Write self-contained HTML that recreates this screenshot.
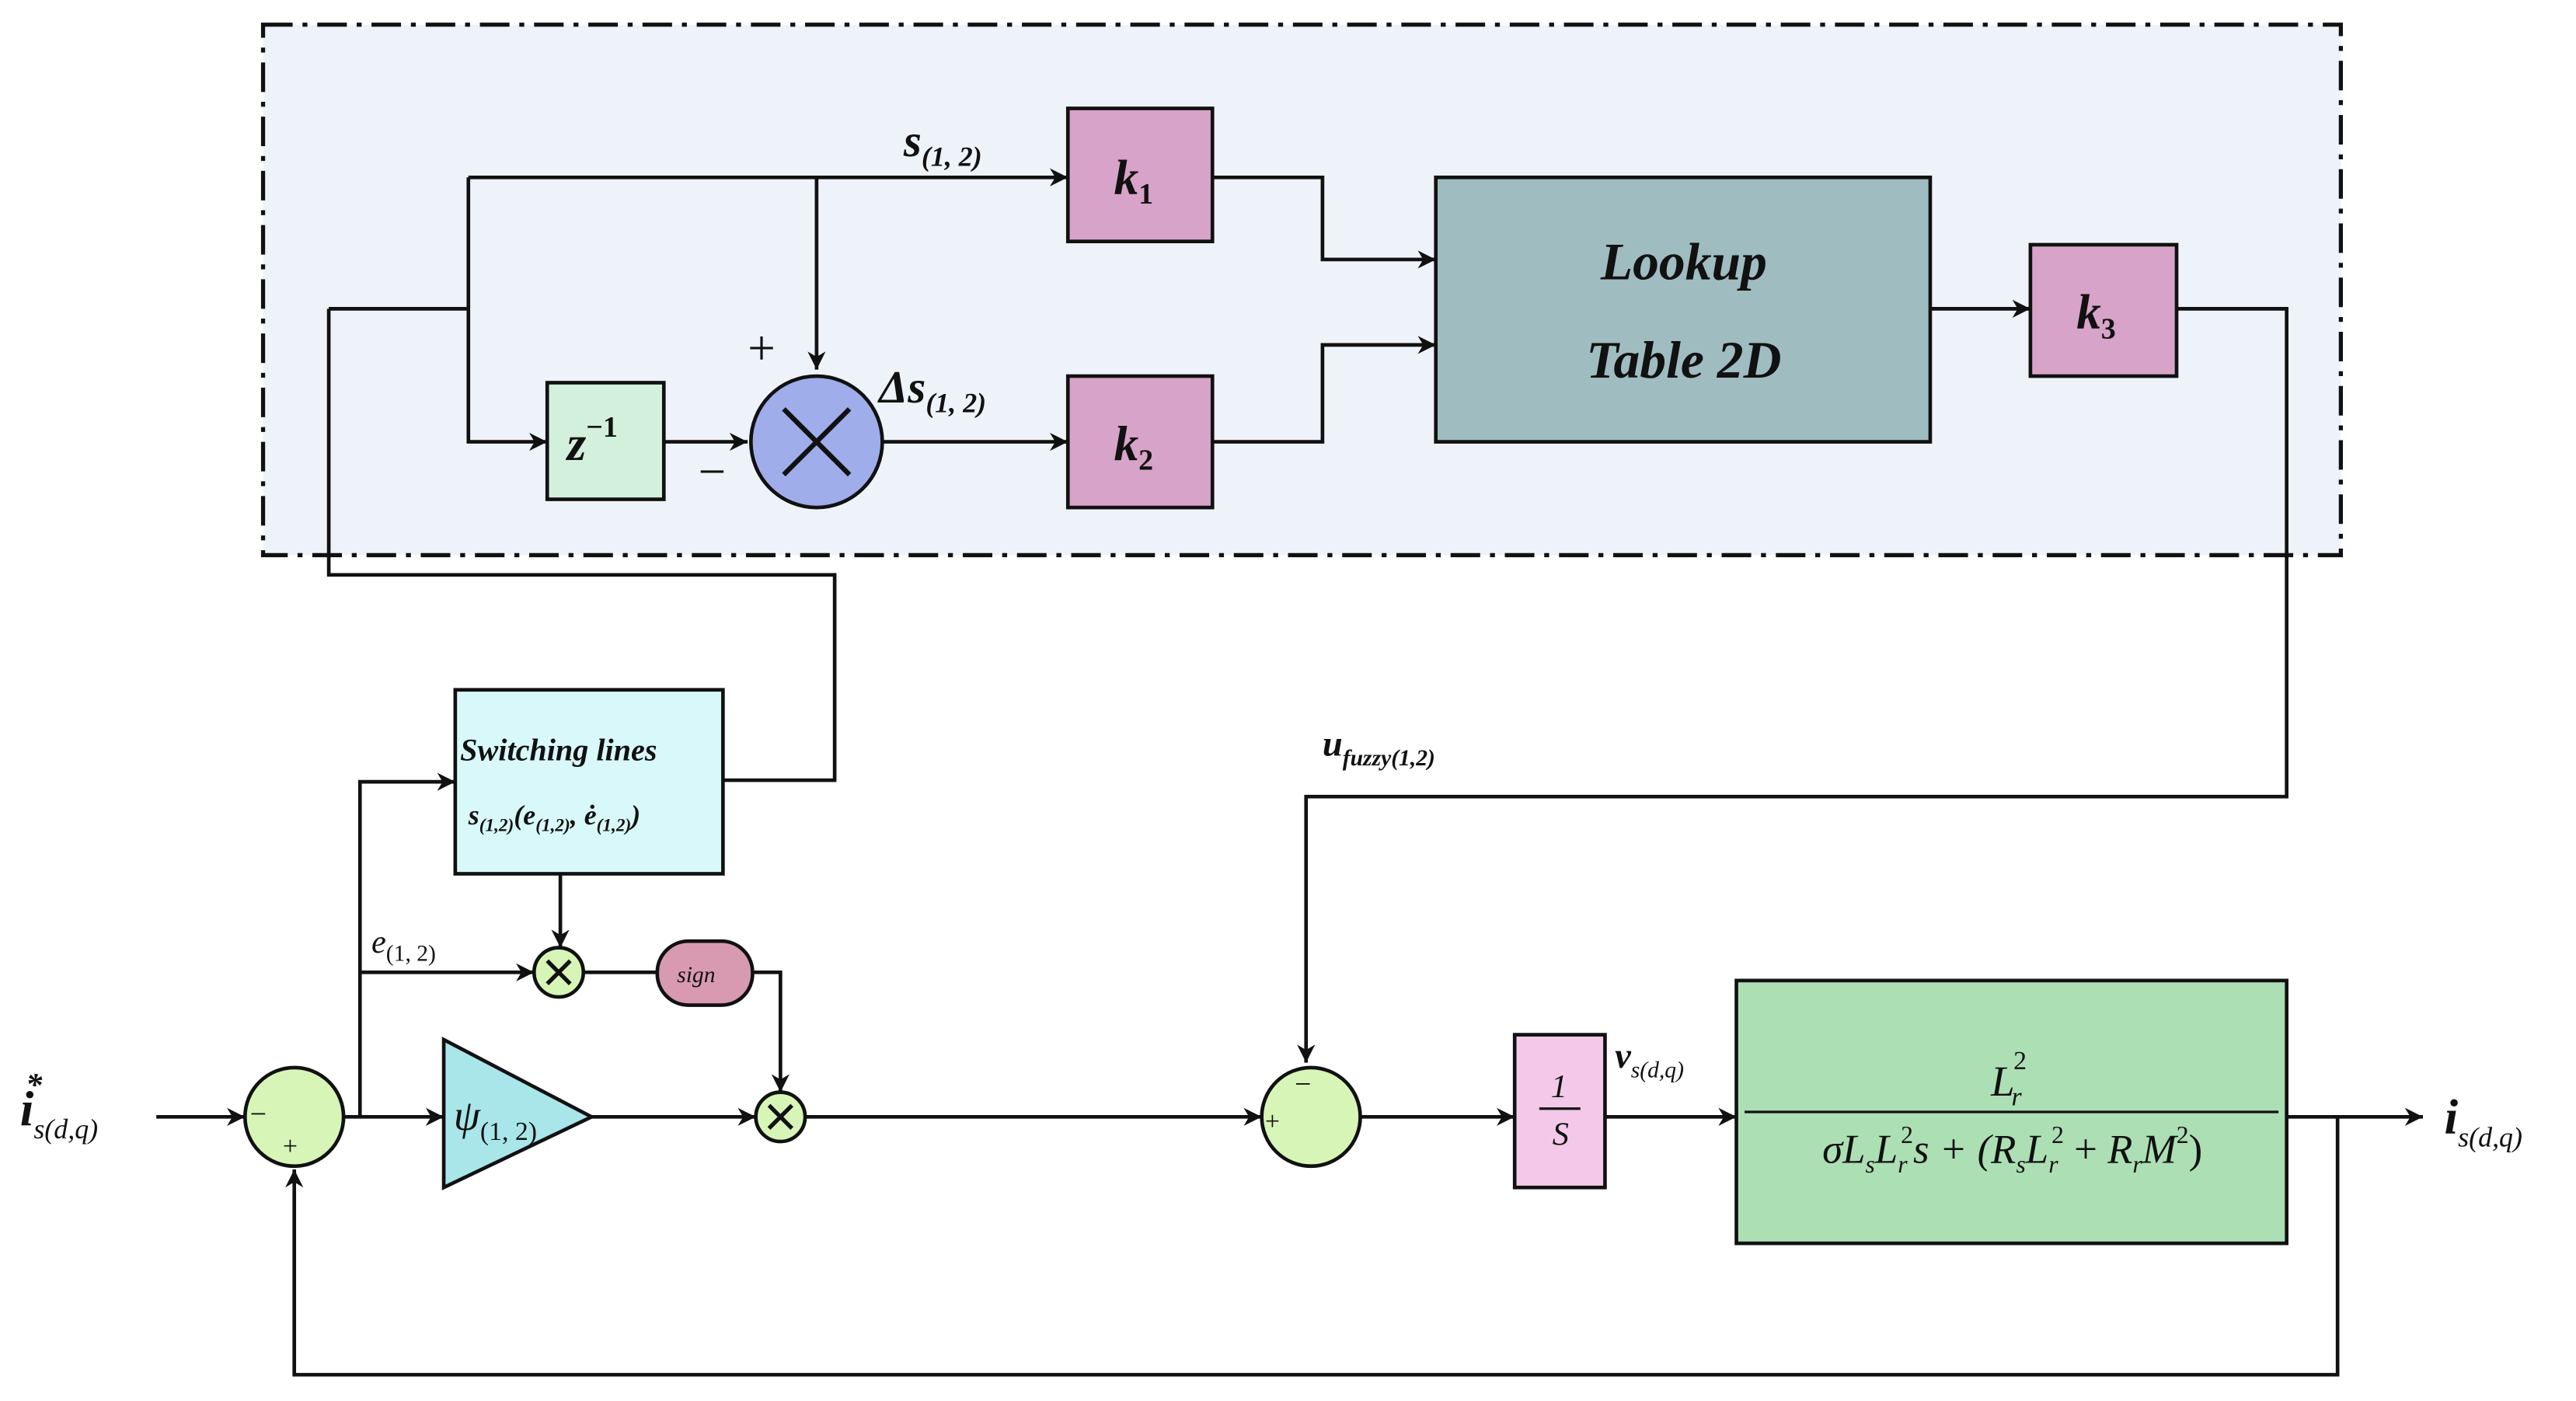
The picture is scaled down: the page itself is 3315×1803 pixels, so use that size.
<!DOCTYPE html>
<html><head><meta charset="utf-8"><style>
html,body{margin:0;padding:0;background:#fff}
svg{display:block}
text{font-family:"Liberation Serif",serif;fill:#111}
</style></head><body>
<svg width="3315" height="1803" viewBox="0 0 1568 853" xmlns="http://www.w3.org/2000/svg">
<defs>
<marker id="a" viewBox="0 0 10 10" refX="10" refY="5" markerWidth="11" markerHeight="11" markerUnits="userSpaceOnUse" orient="auto"><path d="M0,0 L10,5 L0,10 L3,5 z" fill="#111"/></marker>
</defs>
<rect x="160" y="15" width="1265" height="323" fill="#eef3fa" stroke="#111" stroke-width="2.5" stroke-dasharray="18,6,3,6"/>
<g stroke="#111" stroke-width="2.2" fill="none">
<path d="M285,108 H650" marker-end="url(#a)"/>
<path d="M200,188 H285 M285,108 V269 H333" marker-end="url(#a)"/>
<path d="M497,108 V225" marker-end="url(#a)"/>
<path d="M404,269 H455" marker-end="url(#a)"/>
<path d="M537,269 H650" marker-end="url(#a)"/>
<path d="M738,108 H805 V158 H874" marker-end="url(#a)"/>
<path d="M738,269 H805 V210 H874" marker-end="url(#a)"/>
<path d="M1175,188 H1236" marker-end="url(#a)"/>
<path d="M1325,188 H1392 V485 H795 V647" marker-end="url(#a)"/>
<path d="M200,188 V350 H508 V475 H440"/>
<path d="M95,680 H149" marker-end="url(#a)"/>
<path d="M209,680 H270" marker-end="url(#a)"/>
<path d="M219,680 V476 H277" marker-end="url(#a)"/>
<path d="M219,592 H325" marker-end="url(#a)"/>
<path d="M341,532 V577" marker-end="url(#a)"/>
<path d="M355,592 H400"/>
<path d="M458,592 H475 V665" marker-end="url(#a)"/>
<path d="M360,680 H460" marker-end="url(#a)"/>
<path d="M490,680 H768" marker-end="url(#a)"/>
<path d="M828,680 H922" marker-end="url(#a)"/>
<path d="M977,680 H1057" marker-end="url(#a)"/>
<path d="M1392,680 H1475" marker-end="url(#a)"/>
<path d="M1423,680 V837 H179 V712" marker-end="url(#a)"/>
</g>
<g stroke="#111" stroke-width="2.2">
<rect x="650" y="66" width="88" height="81" fill="#d8a3c8"/>
<rect x="650" y="229" width="88" height="80" fill="#d8a3c8"/>
<rect x="874" y="108" width="301" height="161" fill="#9fbcc0"/>
<rect x="1236" y="149" width="89" height="80" fill="#d8a3c8"/>
<rect x="333" y="233" width="71" height="71" fill="#d3f0dc"/>
<circle cx="497" cy="269" r="40" fill="#9fadea"/>
<path d="M477,249 L517,289 M517,249 L477,289" stroke-width="3"/>
<rect x="277" y="420" width="163" height="112" fill="#d8f8fa"/>
<circle cx="179" cy="680" r="30" fill="#d8f5b8"/>
<circle cx="798" cy="680" r="30" fill="#d8f5b8"/>
<circle cx="340" cy="592" r="15" fill="#d8f5b8"/>
<path d="M333,585 L347,599 M347,585 L333,599" stroke-width="2.5"/>
<circle cx="475" cy="680" r="15" fill="#d8f5b8"/>
<path d="M468,673 L482,687 M482,673 L468,687" stroke-width="2.5"/>
<rect x="400" y="573" width="58" height="39" rx="19" fill="#d89ab0"/>
<path d="M270,633 L360,680 L270,723 Z" fill="#a8e6ea"/>
<rect x="922" y="630" width="55" height="93" fill="#f3c8e8"/>
<rect x="1057" y="597" width="335" height="160" fill="#addfb4"/>
</g>
<g font-weight="bold" font-style="italic">
<text x="550" y="95" font-size="28">s<tspan font-size="17" dy="6">(1, 2)</tspan></text>
<text x="678" y="118" font-size="30">k<tspan font-size="18" dy="6" font-style="normal">1</tspan></text>
<text x="678" y="280" font-size="30">k<tspan font-size="18" dy="6" font-style="normal">2</tspan></text>
<text x="1264" y="200" font-size="30">k<tspan font-size="18" dy="6" font-style="normal">3</tspan></text>
<text x="1025" y="170" font-size="32" text-anchor="middle">Lookup</text>
<text x="1025" y="230" font-size="32" text-anchor="middle">Table 2D</text>
<text x="345" y="280" font-size="30">z<tspan font-size="18" dy="-14" font-style="normal">−1</tspan></text>
<text x="535" y="245" font-size="28">Δs<tspan font-size="17" dy="6">(1, 2)</tspan></text>
<text x="280" y="463" font-size="19">Switching lines</text>
<text x="285" y="502" font-size="17">s<tspan font-size="11" dy="4">(1,2)</tspan><tspan dy="-4">(e</tspan><tspan font-size="11" dy="4">(1,2)</tspan><tspan dy="-4">, ė</tspan><tspan font-size="11" dy="4">(1,2)</tspan><tspan dy="-4">)</tspan></text>
<text x="805" y="460" font-size="22">u<tspan font-size="14" dy="6">fuzzy(1,2)</tspan></text>
<text x="983" y="650" font-size="22">v<tspan font-size="14" dy="6" font-weight="normal">s(d,q)</tspan></text>
</g>
<text x="455" y="222" font-size="30">+</text>
<text x="425" y="297" font-size="30">−</text>
<text x="412" y="598" font-size="14" font-style="italic">sign</text>
<text x="226" y="580" font-size="20" font-style="italic">e<tspan font-size="14" dy="5" font-style="normal">(1, 2)</tspan></text>
<text x="276" y="688" font-size="26" font-style="italic">ψ<tspan font-size="16" dy="6" font-style="normal">(1, 2)</tspan></text>
<text x="152" y="684" font-size="18">−</text>
<text x="172" y="703" font-size="16">+</text>
<text x="788" y="666" font-size="18">−</text>
<text x="770" y="688" font-size="16">+</text>
<text x="949" y="668" font-size="20" font-style="italic" text-anchor="middle">1</text>
<line x1="937" y1="675" x2="962" y2="675" stroke="#111" stroke-width="1.5"/>
<text x="950" y="697" font-size="20" font-style="italic" text-anchor="middle">S</text>
<text x="1212" y="667" font-size="26" font-style="italic">L<tspan font-size="16" dx="-2" dy="6">r</tspan><tspan font-size="16" dx="-5" dy="-22" font-style="normal">2</tspan></text>
<line x1="1062" y1="677" x2="1387" y2="677" stroke="#111" stroke-width="1.5"/>
<text x="1225" y="708" font-size="25" font-style="italic" text-anchor="middle">σL<tspan font-size="15" dy="6">s</tspan><tspan dy="-6">L</tspan><tspan font-size="15" dy="6">r</tspan><tspan font-size="15" dx="-4" dy="-18" font-style="normal">2</tspan><tspan dy="12">s + (R</tspan><tspan font-size="15" dy="6">s</tspan><tspan dy="-6">L</tspan><tspan font-size="15" dy="6">r</tspan><tspan font-size="15" dx="-4" dy="-18" font-style="normal">2</tspan><tspan font-style="normal" dy="12"> + </tspan>R<tspan font-size="15" dy="6">r</tspan><tspan dy="-6">M</tspan><tspan font-size="15" dy="-12" font-style="normal">2</tspan><tspan dy="12" font-style="normal">)</tspan></text>
<text x="12" y="685" font-size="30" font-style="italic" font-weight="bold">i<tspan font-size="17" dy="8" font-weight="normal">s(d,q)</tspan><tspan font-size="20" dx="-44" dy="-26">*</tspan></text>
<text x="1488" y="690" font-size="30" font-style="italic" font-weight="bold">i<tspan font-size="17" dy="8" font-weight="normal">s(d,q)</tspan></text>
</svg>
</body></html>
